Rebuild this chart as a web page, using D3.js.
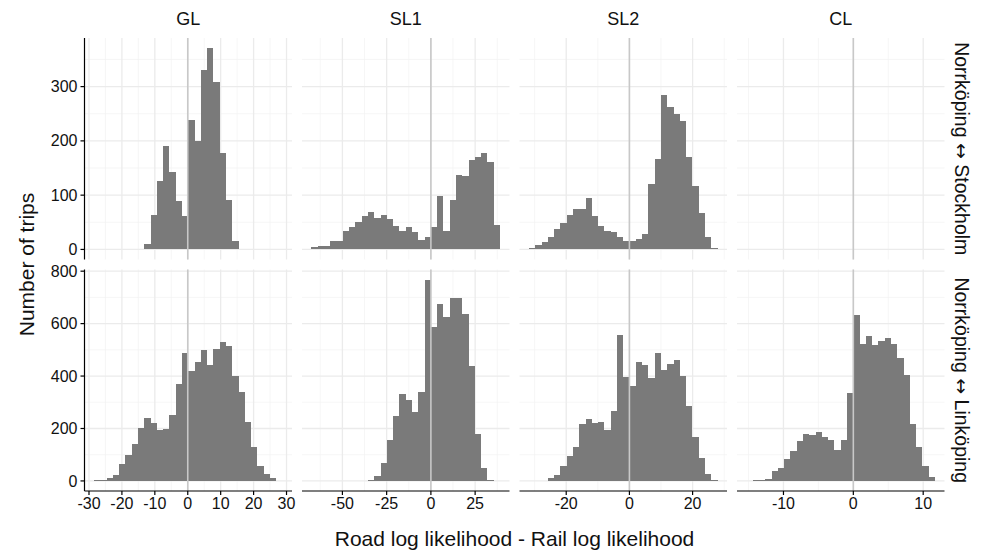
<!DOCTYPE html>
<html>
<head>
<meta charset="utf-8">
<script src="https://cdn.jsdelivr.net/npm/d3@7"></script>
<style>
    body { margin: 0; background: #fff; }
    svg { font-family: "Liberation Sans", Arial, Helvetica, sans-serif; }
    .grid-major { stroke: #ebebeb; stroke-width: 1.3; }
    .grid-minor { stroke: #f2f2f2; stroke-width: 0.7; }
    .bar { fill: #7a7a7a; }
    .zero { stroke: #c8c8c8; stroke-width: 1.6; }
    .axis-line { stroke: #000; stroke-width: 1.2; }
    .tick-label { font-size: 16px; fill: #111; }
    .strip { font-size: 18px; fill: #111; }
    .strip-y { font-size: 19.5px; fill: #111; }
    .arrow { font-family: "DejaVu Sans", sans-serif; font-size: 19px; }
    .title { font-size: 21px; fill: #111; }
</style>
</head>
<body>
<div id="chart"></div>
<script>
"use strict";

// facets
const columns = ["GL", "SL1", "SL2", "CL"];
const rows = ["Norrköping ↔ Stockholm", "Norrköping ↔ Linköping"];

// histogram bins per column (30 bins each)
const binStart = [-28.5, -67.5, -31.8, -15.3];
const binWidth = [1.91, 3.553, 1.99, 0.9];

// counts, row "Norrköping ↔ Stockholm"
const countsStoGL = [0, 0, 0, 0, 0, 0, 0, 0, 10, 63, 126, 190, 143, 89, 61, 238, 200, 331, 371, 309, 178, 91, 15, 0, 0, 0, 0, 0, 0, 0];
const countsStoSL1 = [4, 6, 6, 15, 15, 34, 41, 50, 61, 69, 58, 63, 56, 43, 34, 41, 32, 17, 23, 41, 98, 34, 91, 137, 135, 165, 170, 178, 161, 45];
const countsStoSL2 = [2, 8, 14, 23, 37, 49, 63, 74, 74, 95, 61, 43, 34, 32, 23, 15, 15, 19, 28, 120, 167, 285, 263, 250, 237, 170, 117, 67, 23, 2];
const countsStoCL = [];

// counts, row "Norrköping ↔ Linköping"
const countsLinGL = [3, 5, 13, 23, 66, 99, 139, 203, 241, 222, 196, 199, 250, 371, 489, 420, 455, 501, 443, 504, 531, 516, 401, 341, 225, 130, 57, 28, 11, 1];
const countsLinSL1 = [0, 0, 0, 0, 0, 0, 0, 0, 0, 4, 17, 70, 157, 246, 332, 310, 264, 340, 768, 589, 673, 627, 698, 698, 638, 439, 180, 50, 2, 0];
const countsLinSL2 = [0, 0, 1, 11, 23, 57, 96, 130, 218, 237, 222, 225, 195, 268, 558, 397, 363, 455, 443, 394, 489, 424, 447, 462, 401, 287, 168, 88, 27, 4];
const countsLinCL = [1, 3, 5, 8, 38, 50, 84, 115, 153, 180, 176, 187, 168, 157, 118, 157, 336, 634, 524, 554, 520, 535, 546, 524, 470, 405, 218, 130, 57, 15];

// axis ticks
const xTicks = [[-30, -20, -10, 0, 10, 20, 30], [-50, -25, 0, 25], [-20, 0, 20], [-10, 0, 10]];
const xMinor = [[-25, -15, -5, 5, 15, 25], [-62.5, -37.5, -12.5, 12.5, 37.5], [-30, -10, 10, 30], [-15, -5, 5]];
const yTicks = [[0, 100, 200, 300], [0, 200, 400, 600, 800]];
const yMinor = [[50, 150, 250, 350], [100, 300, 500, 700]];

const counts = [
    [countsStoGL, countsStoSL1, countsStoSL2, countsStoCL],
    [countsLinGL, countsLinSL1, countsLinSL2, countsLinCL]
];

function main() {
    const width = 983, height = 550;
    const left = 84.5, top = 38;
    const pw = 207.5, ph = 221.5, gap = 10;

    var svg = d3.select("#chart").append("svg")
        .attr("width", width).attr("height", height);

    var xScales = columns.map(function (c, j) {
        const lo = binStart[j];
        const hi = binStart[j] + 30 * binWidth[j];
        const pad = (hi - lo) * 0.05;
        const x0 = left + j * (pw + gap);
        return d3.scaleLinear().domain([lo - pad, hi + pad]).range([x0, x0 + pw]);
    });

    var yScales = rows.map(function (r, i) {
        const maxCount = d3.max(counts[i], function (arr) {
            return arr.length ? d3.max(arr) : 0;
        });
        const y0 = top + i * (ph + gap);
        return d3.scaleLinear().domain([-0.05 * maxCount, 1.05 * maxCount]).range([y0 + ph, y0]);
    });

    for (var i = 0; i < rows.length; ++i) {
        for (var j = 0; j < columns.length; ++j) {
            drawPanel(svg, i, j, xScales[j], yScales[i]);
        }
    }

    // strips on top
    columns.forEach(function (c, j) {
        const r = xScales[j].range();
        svg.append("text").attr("class", "strip")
            .attr("x", (r[0] + r[1]) / 2).attr("y", 25)
            .attr("text-anchor", "middle").text(c);
    });
    // strips on the right, arrow glyph in a font that has a wide one
    rows.forEach(function (name, i) {
        const r = yScales[i].range();
        const cy = (r[0] + r[1]) / 2;
        const parts = name.split("↔");
        var t = svg.append("text").attr("class", "strip-y")
            .attr("transform", "translate(955," + cy + ") rotate(90)")
            .attr("text-anchor", "middle");
        t.append("tspan").text(parts[0]);
        t.append("tspan").attr("class", "arrow").text("↔");
        t.append("tspan").text(parts[1]);
    });

    // y axis (first column)
    rows.forEach(function (name, i) {
        const ys = yScales[i];
        const r = ys.range();
        svg.append("line").attr("class", "axis-line")
            .attr("x1", left).attr("x2", left).attr("y1", r[0]).attr("y2", r[1]);
        yTicks[i].forEach(function (t) {
            svg.append("line").attr("class", "axis-line")
                .attr("x1", left - 4).attr("x2", left).attr("y1", ys(t)).attr("y2", ys(t));
            svg.append("text").attr("class", "tick-label")
                .attr("x", left - 7).attr("y", ys(t)).attr("dy", "0.35em")
                .attr("text-anchor", "end").text(t);
        });
    });

    // x axis (bottom row)
    const yBottom = yScales[1].range()[0];
    columns.forEach(function (c, j) {
        const xs = xScales[j];
        const r = xs.range();
        svg.append("line").attr("class", "axis-line")
            .attr("x1", r[0]).attr("x2", r[1]).attr("y1", yBottom).attr("y2", yBottom);
        xTicks[j].forEach(function (t) {
            svg.append("line").attr("class", "axis-line")
                .attr("x1", xs(t)).attr("x2", xs(t)).attr("y1", yBottom).attr("y2", yBottom + 4);
            svg.append("text").attr("class", "tick-label")
                .attr("x", xs(t)).attr("y", yBottom + 18)
                .attr("text-anchor", "middle").text(t);
        });
    });

    // titles
    svg.append("text").attr("class", "title")
        .attr("x", (left + xScales[3].range()[1]) / 2).attr("y", 546)
        .attr("text-anchor", "middle")
        .text("Road log likelihood - Rail log likelihood");
    svg.append("text").attr("class", "title")
        .attr("transform", "translate(34," + ((top + yBottom) / 2) + ") rotate(-90)")
        .attr("text-anchor", "middle")
        .text("Number of trips");
}

function drawPanel(svg, i, j, xs, ys) {
    const xr = xs.range();
    const yr = ys.range();
    var g = svg.append("g");

    // grid
    yMinor[i].forEach(function (t) {
        g.append("line").attr("class", "grid-minor")
            .attr("x1", xr[0]).attr("x2", xr[1]).attr("y1", ys(t)).attr("y2", ys(t));
    });
    xMinor[j].forEach(function (t) {
        g.append("line").attr("class", "grid-minor")
            .attr("x1", xs(t)).attr("x2", xs(t)).attr("y1", yr[0]).attr("y2", yr[1]);
    });
    yTicks[i].forEach(function (t) {
        g.append("line").attr("class", "grid-major")
            .attr("x1", xr[0]).attr("x2", xr[1]).attr("y1", ys(t)).attr("y2", ys(t));
    });
    xTicks[j].forEach(function (t) {
        g.append("line").attr("class", "grid-major")
            .attr("x1", xs(t)).attr("x2", xs(t)).attr("y1", yr[0]).attr("y2", yr[1]);
    });

    // bars
    const data = counts[i][j].map(function (n, k) {
        return {x0: binStart[j] + k * binWidth[j], x1: binStart[j] + (k + 1) * binWidth[j], n: n};
    }).filter(function (d) {
        return d.n > 0;
    });
    g.selectAll("rect").data(data).enter().append("rect")
        .attr("class", "bar")
        .attr("x", function (d) { return xs(d.x0); })
        .attr("width", function (d) { return xs(d.x1) - xs(d.x0); })
        .attr("y", function (d) { return ys(d.n); })
        .attr("height", function (d) { return ys(0) - ys(d.n); })
        .attr("shape-rendering", "crispEdges");

    // zero line
    g.append("line").attr("class", "zero")
        .attr("x1", xs(0)).attr("x2", xs(0)).attr("y1", yr[0]).attr("y2", yr[1]);
}

main();
</script>
</body>
</html>
